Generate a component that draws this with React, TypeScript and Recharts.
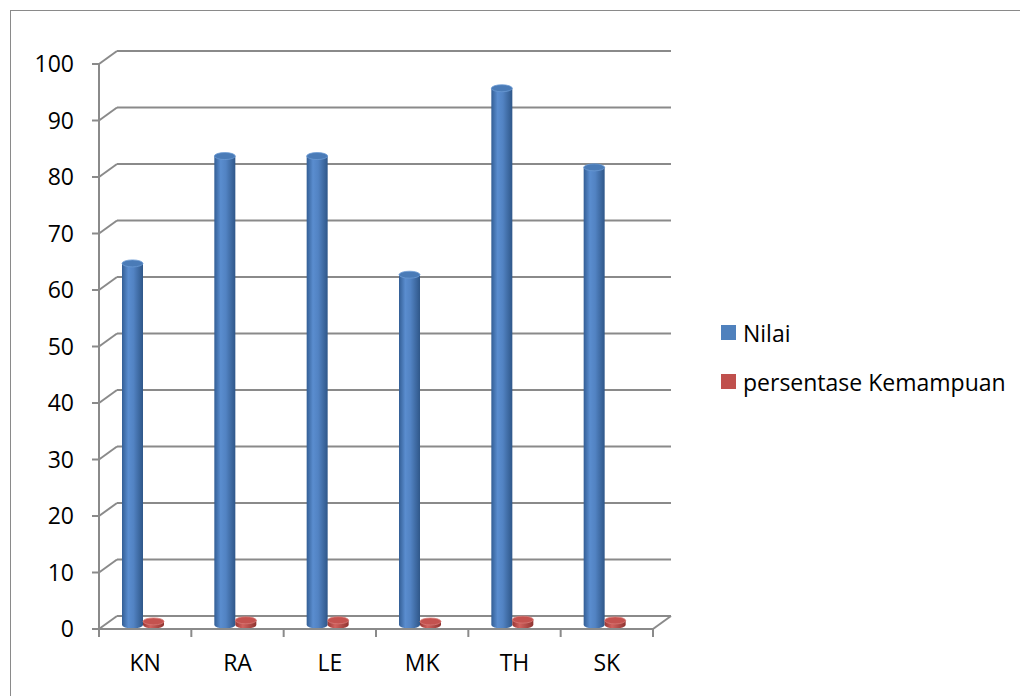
import React from "react";
import {
  BarChart,
  Bar,
  XAxis,
  YAxis,
  CartesianGrid,
} from "recharts";

const categories = ["KN", "RA", "LE", "MK", "TH", "SK"];
const nilai = [64, 83, 83, 62, 95, 81];
const persentase = [0.64, 0.83, 0.83, 0.62, 0.95, 0.81];
const yTicks = [0, 10, 20, 30, 40, 50, 60, 70, 80, 90, 100];
const seriesNames = ["Nilai", "persentase Kemampuan"];
const seriesColors = ["#4F81BD", "#C0504D"];

const data = categories.map((name, i) => ({
  name,
  nilai: nilai[i],
  persentase: persentase[i],
}));

const W = 1020;
const H = 696;
const TOP = 64;
const LEFT = 99;
const PLOT_W = 554;
const PLOT_H = 565;
const AXIS_Y = TOP + PLOT_H;
const BAND = PLOT_W / categories.length;
// offset of the back wall relative to the front edge (3d look)
const DX = 18;
const DY = -13;
const GRID = "#8a8a8a";
const FONT = "'Open Sans', 'Noto Sans', sans-serif";
const FS = 23;

function Cylinder(props: any) {
  const { x, y, width, height, grad, top, rim } = props;
  if (width == null || height == null) return null;
  const x0 = x - 2;
  const t = y - 4;
  const b = y + height - 4;
  const rx = width / 2;
  const ry = 3.5;
  return (
    <g>
      <path
        d={`M${x0} ${t} L${x0} ${b} A${rx} ${ry} 0 0 0 ${x0 + width} ${b} L${x0 + width} ${t} Z`}
        fill={`url(#${grad})`}
      />
      <ellipse cx={x0 + rx} cy={t} rx={rx} ry={ry} fill={top} stroke={rim} strokeWidth={0.8} />
    </g>
  );
}

function gridLine(p: any) {
  const { x1, y1, x2 } = p;
  const bottom = Math.abs(y1 - AXIS_Y) < 1;
  return (
    <g key={`grid-${y1}`}>
      <line x1={x1 + DX} y1={y1 + DY} x2={x2 + DX} y2={y1 + DY} stroke={GRID} strokeWidth={2} />
      <line x1={x1} y1={y1} x2={x1 + DX} y2={y1 + DY} stroke={GRID} strokeWidth={2} />
      {bottom && (
        <line x1={x2} y1={y1} x2={x2 + DX} y2={y1 + DY} stroke={GRID} strokeWidth={2} />
      )}
    </g>
  );
}

function YTick(props: any) {
  const { y, payload } = props;
  return (
    <text x={74} y={y} dy="0.36em" textAnchor="end" fontSize={FS} fill="#000" fontFamily={FONT}>
      {payload.value}
    </text>
  );
}

function XTick(props: any) {
  const { x, payload, index } = props;
  const last = index === categories.length - 1;
  return (
    <g>
      <line x1={x - BAND / 2} y1={AXIS_Y} x2={x - BAND / 2} y2={AXIS_Y + 8} stroke={GRID} strokeWidth={2} />
      {last && (
        <line x1={x + BAND / 2} y1={AXIS_Y} x2={x + BAND / 2} y2={AXIS_Y + 8} stroke={GRID} strokeWidth={2} />
      )}
      <text x={x} y={AXIS_Y + 34} dy="0.36em" textAnchor="middle" fontSize={FS} fill="#000" fontFamily={FONT}>
        {payload.value}
      </text>
    </g>
  );
}

function LegendBox() {
  return (
    <div
      style={{
        position: "absolute",
        left: 721,
        top: 308,
        fontFamily: FONT,
        fontSize: FS,
        color: "#000",
        whiteSpace: "nowrap",
      }}
    >
      {seriesNames.map((n, i) => (
        <div key={n} style={{ display: "flex", alignItems: "center", height: 49 }}>
          <span
            style={{
              display: "inline-block",
              width: 15,
              height: 15,
              background: seriesColors[i],
              marginRight: 7,
            }}
          />
          <span>{n}</span>
        </div>
      ))}
    </div>
  );
}

export default function App() {
  return (
    <div style={{ position: "absolute", left: 0, top: 0, width: W, height: H, overflow: "hidden", background: "#fff" }}>
      <div
        style={{
          position: "absolute",
          left: 10,
          top: 10,
          width: 1100,
          height: 800,
          border: "1px solid #8a8a8a",
        }}
      />
      <div style={{ position: "absolute", left: 0, top: 0 }}>
        <BarChart
          width={W}
          height={H}
          data={data}
          margin={{ top: TOP, right: W - LEFT - PLOT_W, left: 0, bottom: 0 }}
          barGap={0}
          barSize={21}
        >
          <defs>
            <linearGradient id="gBlue" x1="0" y1="0" x2="1" y2="0">
              <stop offset="0%" stopColor="#335e95" />
              <stop offset="30%" stopColor="#5a8dcf" />
              <stop offset="55%" stopColor="#5283c3" />
              <stop offset="100%" stopColor="#2f5789" />
            </linearGradient>
            <linearGradient id="gRed" x1="0" y1="0" x2="1" y2="0">
              <stop offset="0%" stopColor="#973735" />
              <stop offset="35%" stopColor="#d2625e" />
              <stop offset="100%" stopColor="#8f3431" />
            </linearGradient>
          </defs>
          <CartesianGrid vertical={false} horizontal={gridLine} />
          <XAxis
            dataKey="name"
            height={H - TOP - PLOT_H}
            axisLine={{ stroke: GRID, strokeWidth: 2 }}
            tickLine={false}
            tick={<XTick />}
            interval={0}
          />
          <YAxis
            width={LEFT}
            domain={[0, 100]}
            ticks={yTicks}
            axisLine={{ stroke: GRID, strokeWidth: 2 }}
            tickLine={{ stroke: GRID, strokeWidth: 2 }}
            tickSize={7}
            tick={<YTick />}
          />
          <Bar
            dataKey="nilai"
            name={seriesNames[0]}
            fill={seriesColors[0]}
            isAnimationActive={false}
            shape={<Cylinder grad="gBlue" top="#4a7bb7" rim="#6b9ad4" />}
          />
          <Bar
            dataKey="persentase"
            name={seriesNames[1]}
            fill={seriesColors[1]}
            isAnimationActive={false}
            shape={<Cylinder grad="gRed" top="#c4524f" rim="#d87a76" />}
          />
        </BarChart>
      </div>
      <LegendBox />
    </div>
  );
}
